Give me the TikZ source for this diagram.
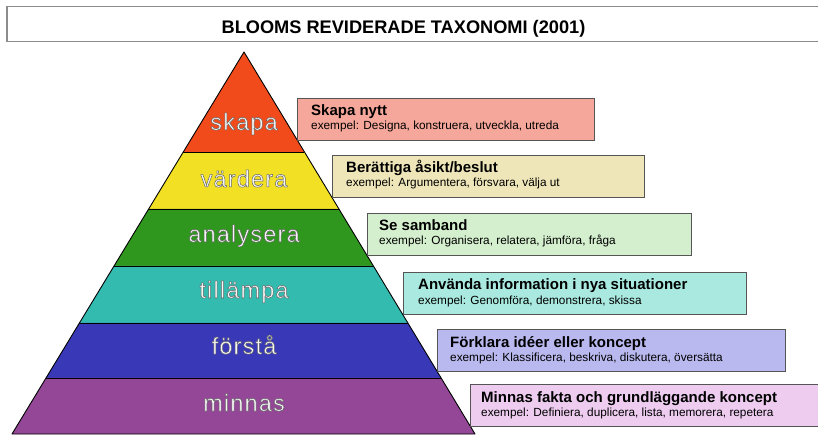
\documentclass[tikz,border=0pt]{standalone}
\usepackage{fontspec}
\setmainfont{Liberation Sans}
\newfontfamily\pyrfont[LetterSpace=5]{Liberation Sans}
\usetikzlibrary{calc}
\definecolor{cskapa}{HTML}{F24B1B}
\definecolor{cvardera}{HTML}{F2E024}
\definecolor{canalys}{HTML}{2F961E}
\definecolor{ctillampa}{HTML}{33BBB0}
\definecolor{cforsta}{HTML}{3939B8}
\definecolor{cminnas}{HTML}{934796}
\definecolor{bskapa}{HTML}{F4A79A}
\definecolor{bvardera}{HTML}{EEE6B9}
\definecolor{banalys}{HTML}{D4EFCE}
\definecolor{btillampa}{HTML}{A9E9DF}
\definecolor{bforsta}{HTML}{B9B9EF}
\definecolor{bminnas}{HTML}{EDCCF0}
\definecolor{boxline}{HTML}{555555}
\definecolor{pyrtext}{HTML}{F6F6F6}
% white letters with a thin dark outline (PDF text render mode 2: fill + stroke)
\newcommand\outlined[1]{{\color{pyrtext}\special{pdf:literal direct 0.4 0.4 0.4 RG 0.5 w 2 Tr}#1\special{pdf:literal direct 0 Tr}}}
\tikzset{
  pyrlabel/.style={anchor=base, inner sep=0pt, font=\pyrfont\fontsize{23.5}{26}\selectfont},
  infobox/.style={draw=boxline, line width=1.2pt, anchor=north west, inner sep=0pt, minimum height=42pt},
  heading/.style={anchor=base west, inner sep=0pt, font=\bfseries\fontsize{15}{18}\selectfont},
  example/.style={anchor=base west, inner sep=0pt, font=\fontsize{11.8}{14}\selectfont},
  band/.style={draw=black, line width=0.9pt, line join=round}
}
\begin{document}
\begin{tikzpicture}[x=1pt,y=-1pt]
\useasboundingbox (0,0) rectangle (818,435);
% title
\node[draw=black!45, line width=1.5pt, anchor=north west, minimum width=820pt, minimum height=35pt, inner sep=0pt] (titlebox) at (6,6) {};
\node[anchor=base, inner sep=0pt, font=\bfseries\fontsize{18.2}{20}\selectfont] (title) at (403.5,34) {BLOOMS REVIDERADE TAXONOMI (2001)};
% pyramid
\coordinate (A) at (244,52);
\coordinate (L) at (12,434);
\coordinate (R) at (475,434);
\foreach \n/\t in {1/0.2618,2/0.4110,3/0.5602,4/0.7094,5/0.8534}{
  \coordinate (l\n) at ($(A)!\t!(L)$);
  \coordinate (r\n) at ($(A)!\t!(R)$);
}
\fill[cskapa] (A) -- (l1) -- (r1) -- cycle;
\fill[cvardera] (l1) -- (l2) -- (r2) -- (r1) -- cycle;
\fill[canalys] (l2) -- (l3) -- (r3) -- (r2) -- cycle;
\fill[ctillampa] (l3) -- (l4) -- (r4) -- (r3) -- cycle;
\fill[cforsta] (l4) -- (l5) -- (r5) -- (r4) -- cycle;
\fill[cminnas] (l5) -- (L) -- (R) -- (r5) -- cycle;
\draw[band] (A) -- (L) -- (R) -- cycle;
\foreach \n in {1,...,5}{\draw[band] (l\n) -- (r\n);}
\node[pyrlabel] (skapa) at (244,130) {\outlined{skapa}};
\node[pyrlabel] (vardera) at (244,187) {\outlined{värdera}};
\node[pyrlabel] (analysera) at (244,242) {\outlined{analysera}};
\node[pyrlabel] (tillampa) at (244,298) {\outlined{tillämpa}};
\node[pyrlabel] (forsta) at (244,354) {\outlined{förstå}};
\node[pyrlabel] (minnas) at (244,411) {\outlined{minnas}};
% info boxes
\node[infobox, fill=bskapa, minimum width=297pt] (b1) at (297,98) {};
\node[heading] (h1) at (311,116) {Skapa nytt};
\node[example] (e1) at (311,130) {exempel: Designa, konstruera, utveckla, utreda};
\node[infobox, fill=bvardera, minimum width=312pt] (b2) at (332,155) {};
\node[heading] (h2) at (346,173) {Berättiga åsikt/beslut};
\node[example] (e2) at (346,187) {exempel: Argumentera, försvara, välja ut};
\node[infobox, fill=banalys, minimum width=324pt] (b3) at (367,213) {};
\node[heading] (h3) at (379,231) {Se samband};
\node[example] (e3) at (379,245) {exempel: Organisera, relatera, jämföra, fråga};
\node[infobox, fill=btillampa, minimum width=343pt] (b4) at (403,272) {};
\node[heading] (h4) at (418,290) {Använda information i nya situationer};
\node[example] (e4) at (418,304) {exempel: Genomföra, demonstrera, skissa};
\node[infobox, fill=bforsta, minimum width=348pt] (b5) at (437,329) {};
\node[heading] (h5) at (450,347) {Förklara idéer eller koncept};
\node[example] (e5) at (450,361) {exempel: Klassificera, beskriva, diskutera, översätta};
\node[infobox, fill=bminnas, minimum width=360pt] (b6) at (470,384) {};
\node[heading] (h6) at (481,402) {Minnas fakta och grundläggande koncept};
\node[example] (e6) at (481,416) {exempel: Definiera, duplicera, lista, memorera, repetera};
\end{tikzpicture}
\end{document}
